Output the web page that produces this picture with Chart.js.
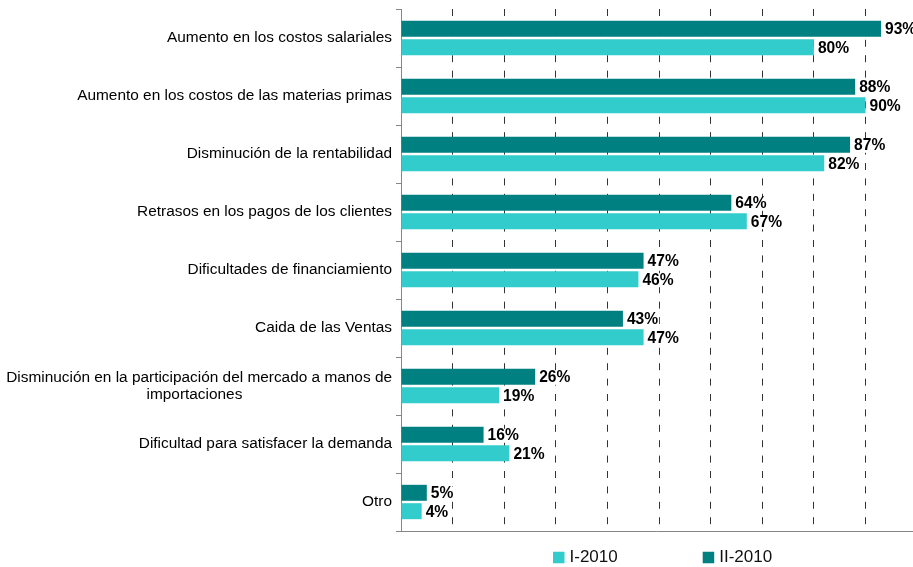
<!DOCTYPE html>
<html>
<head>
<meta charset="utf-8">
<script src="https://cdn.jsdelivr.net/npm/chart.js@4.4.1/dist/chart.umd.min.js"></script>
<style>
html,body{margin:0;padding:0;background:#fff;}
#wrap{width:913px;height:567px;position:relative;}
</style>
</head>
<body>
<div id="wrap"><canvas id="c"></canvas></div>
<script>
const categories = [
  "Aumento en los costos salariales",
  "Aumento en los costos de las materias primas",
  "Disminución de la rentabilidad",
  "Retrasos en los pagos de los clientes",
  "Dificultades de financiamiento",
  "Caida de las Ventas",
  "Disminución en la participación del mercado a manos de importaciones",
  "Dificultad para satisfacer la demanda",
  "Otro"
];
const seriesI = [80, 90, 82, 67, 46, 47, 19, 21, 4];      // I-2010
const seriesII = [93, 88, 87, 64, 47, 43, 26, 16, 5];     // II-2010
const xGridTicks = [10, 20, 30, 40, 50, 60, 70, 80, 90];

const FONT = '"Liberation Sans", Arial, sans-serif';

// split long category into two lines, second centred under the first
function splitLabel(label) {
  const brk = "Disminución en la participación del mercado a manos de";
  if (label.startsWith(brk) && label.length > brk.length) {
    const second = label.slice(brk.length + 1);
    return [brk, second + " ".repeat(35)];
  }
  return label;
}

const valueLabels = {
  id: 'valueLabels',
  afterDatasetsDraw(chart) {
    const ctx = chart.ctx;
    ctx.save();
    ctx.font = 'bold 15.6px ' + FONT;
    ctx.textAlign = 'left';
    ctx.textBaseline = 'middle';
    chart.data.datasets.forEach((ds, i) => {
      chart.getDatasetMeta(i).data.forEach((bar, j) => {
        const txt = ds.data[j] + '%';
        const tx = bar.x + 4;
        const ty = bar.y + 1;
        const w = ctx.measureText(txt).width;
        ctx.fillStyle = '#fff';
        ctx.fillRect(tx - 1, ty - 7, w + 2, 14);
        ctx.fillStyle = '#000';
        ctx.fillText(txt, tx, ty);
      });
    });
    ctx.restore();
  }
};

const customLegend = {
  id: 'customLegend',
  afterDraw(chart) {
    const ctx = chart.ctx;
    const order = [1, 0]; // I-2010 first, then II-2010
    let x = 553;
    const cy = 557;
    const box = 11.5;
    ctx.save();
    ctx.font = '17px ' + FONT;
    ctx.textBaseline = 'middle';
    ctx.textAlign = 'left';
    order.forEach(i => {
      const ds = chart.data.datasets[i];
      ctx.fillStyle = ds.backgroundColor;
      ctx.fillRect(x, cy - box / 2 + 0.5, box, box);
      ctx.fillStyle = '#111';
      const tx = x + box + 5;
      ctx.fillText(ds.label, tx, cy);
      x = tx + ctx.measureText(ds.label).width + 85;
    });
    ctx.restore();
  }
};

new Chart(document.getElementById('c'), {
  type: 'bar',
  data: {
    labels: categories,
    datasets: [
      { label: 'II-2010', data: seriesII, backgroundColor: '#008080',
        categoryPercentage: 0.634, barPercentage: 0.87 },
      { label: 'I-2010', data: seriesI, backgroundColor: '#33CCCC',
        categoryPercentage: 0.634, barPercentage: 0.87 }
    ]
  },
  options: {
    indexAxis: 'y',
    responsive: true,
    maintainAspectRatio: false,
    animation: false,
    layout: { padding: { top: 9, bottom: 36, left: 0, right: 0 } },
    plugins: {
      legend: { display: false },
      tooltip: { enabled: false }
    },
    scales: {
      x: {
        min: 0,
        max: 99.2,
        afterBuildTicks(scale) {
          scale.ticks = [0].concat(xGridTicks).map(v => ({ value: v }));
        },
        ticks: { display: false },
        grid: {
          drawTicks: false,
          lineWidth: 1,
          color: ctx => (ctx.tick && ctx.tick.value > 0) ? '#333' : 'rgba(0,0,0,0)'
        },
        border: { display: true, color: '#868686', width: 1, dash: [7, 8.4] }
      },
      y: {
        afterFit(scale) {
          scale.width = 401;
          scale.paddingTop = 0;
          scale.paddingBottom = 0;
        },
        grid: {
          offset: true,
          drawOnChartArea: false,
          drawTicks: true,
          tickLength: 5,
          color: '#868686'
        },
        border: { display: true, color: '#868686', width: 1 },
        ticks: {
          autoSkip: false,
          padding: 4,
          crossAlign: 'near',
          color: '#000',
          font: { family: FONT, size: 15.4, lineHeight: 1.08 },
          callback: function (value) {
            return splitLabel(this.getLabelForValue(value));
          }
        }
      }
    }
  },
  plugins: [valueLabels, customLegend]
});
</script>
</body>
</html>
